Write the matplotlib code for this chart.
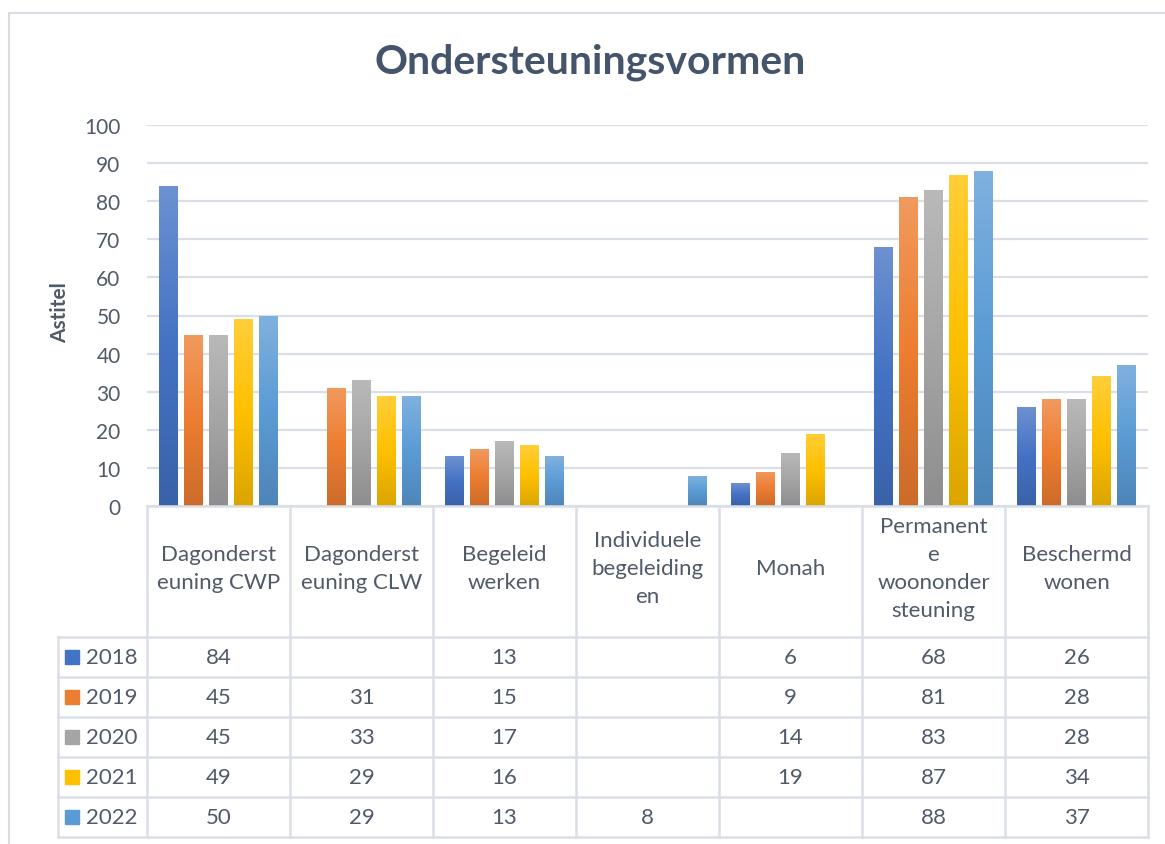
import numpy as np
import matplotlib
matplotlib.use("Agg")
import matplotlib.pyplot as plt
from matplotlib.lines import Line2D
from matplotlib.patches import Rectangle
from matplotlib.colors import to_rgb
from matplotlib.transforms import blended_transform_factory

plt.rcParams['font.family'] = ['Lato', 'DejaVu Sans']

categories = ["Dagonderst\neuning CWP", "Dagonderst\neuning CLW", "Begeleid\nwerken",
              "Individuele\nbegeleiding\nen", "Monah", "Permanent\ne\nwoononder\nsteuning",
              "Beschermd\nwonen"]
years = ["2018", "2019", "2020", "2021", "2022"]
v2018 = [84, None, 13, None, 6, 68, 26]
v2019 = [45, 31, 15, None, 9, 81, 28]
v2020 = [45, 33, 17, None, 14, 83, 28]
v2021 = [49, 29, 16, None, 19, 87, 34]
v2022 = [50, 29, 13, 8, None, 88, 37]
series = [v2018, v2019, v2020, v2021, v2022]
colors = ['#4472C4', '#ED7D31', '#A5A5A5', '#FFC000', '#5B9BD5']

text_col = '#505A68'
line_col = '#DADFE6'

W, H = 1165, 845
fig = plt.figure(figsize=(W / 100, H / 100), dpi=100)


def fx(px):
    return px / W


def fy(py):
    return 1 - py / H


ax = fig.add_axes([fx(147), fy(507), fx(1148) - fx(147), fy(126) - fy(507)])

x = np.arange(len(categories))
step = 0.175
width = 0.13


def gradient(c):
    base = np.array(to_rgb(c))
    bottom = base * 0.86
    top = base + 0.22 * (1 - base)
    t = np.linspace(0, 1, 64)[:, None]
    g = np.where(t < 0.5, bottom + (base - bottom) * (t / 0.5), base + (top - base) * ((t - 0.5) / 0.5))
    return g[:, None, :]


for i, (vals, c) in enumerate(zip(series, colors)):
    arr = np.array([np.nan if v is None else v for v in vals], dtype=float)
    ok = ~np.isnan(arr)
    bars = ax.bar(x[ok] + (i - 2) * step, arr[ok], width, facecolor='none',
                  edgecolor='none', zorder=3)
    img = gradient(c)
    for r in bars:
        x0, w, h = r.get_x(), r.get_width(), r.get_height()
        im = ax.imshow(img, extent=[x0, x0 + w, 0, h], origin='lower',
                       aspect='auto', zorder=2, interpolation='bilinear')
        im.set_clip_path(r)

ax.set_xlim(-0.5, len(categories) - 0.5)
ax.set_ylim(0, 100)
ax.set_yticks(np.arange(0, 101, 10))
ax.set_xticks([])
ax.tick_params(axis='y', length=0, pad=19, labelsize=15, labelcolor=text_col)
ax.grid(axis='y', color=line_col, lw=1.6)
ax.set_axisbelow(True)
for s in ax.spines.values():
    s.set_visible(False)

fig.text(fx(60), fy(313), "Astitel", rotation=90, ha='center', va='center',
         fontsize=15, fontweight='bold', color=text_col)
fig.text(fx(590), fy(62), "Ondersteuningsvormen", ha='center', va='center',
         fontsize=29.5, fontweight='bold', color='#44546A')

# data table under the plot
bt = blended_transform_factory(ax.transData, fig.transFigure)
xl = -0.5 - (147 - 58) / 143
xr = len(categories) - 0.5
row_edges = [638, 678, 718, 758, 798, 838]
lk = dict(color=line_col, lw=1.8, transform=bt, clip_on=False)
fig.add_artist(Line2D([-0.5, xr], [fy(507), fy(507)], **lk))
for yy in row_edges:
    fig.add_artist(Line2D([xl, xr], [fy(yy), fy(yy)], **lk))
for k in range(len(categories) + 1):
    fig.add_artist(Line2D([k - 0.5, k - 0.5], [fy(507), fy(838)], **lk))
fig.add_artist(Line2D([xl, xl], [fy(638), fy(838)], **lk))

for j, lab in enumerate(categories):
    fig.text(x[j], fy(569), lab, transform=bt, ha='center', va='center',
             fontsize=16, color=text_col, linespacing=1.52)

for i, (vals, c, yr) in enumerate(zip(series, colors, years)):
    yc = (row_edges[i] + row_edges[i + 1]) / 2
    fig.add_artist(Rectangle((fx(65), fy(yc + 7)), fx(14), 14 / H,
                             transform=fig.transFigure, color=c))
    fig.text(fx(86), fy(yc), yr, ha='left', va='center', fontsize=16, color=text_col)
    for j, v in enumerate(vals):
        if v is not None:
            fig.text(x[j], fy(yc), str(v), transform=bt, ha='center', va='center',
                     fontsize=16, color=text_col)

# outer chart frame
fig.add_artist(Line2D([fx(9), 1], [fy(14), fy(14)], color='#D9DDE3', lw=1.5))
fig.add_artist(Line2D([fx(9), fx(9)], [fy(14), 0], color='#D9DDE3', lw=1.5))

fig.savefig("out.png", dpi=100)
